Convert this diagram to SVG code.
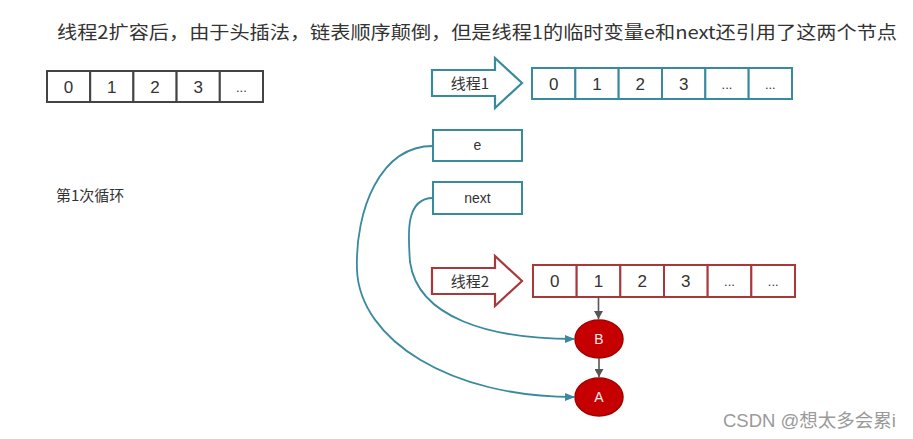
<svg xmlns="http://www.w3.org/2000/svg" width="913" height="439" viewBox="0 0 913 439">
<style>
text{font-family:"Liberation Sans","Noto Sans CJK SC",sans-serif;}
.cjk{font-family:"Noto Sans CJK SC","Liberation Sans",sans-serif;}
.cellK{fill:#fff;stroke:#444;stroke-width:2;}
.cellT{fill:#fff;stroke:#3a8a9e;stroke-width:2;}
.cellR{fill:#fff;stroke:#a8383a;stroke-width:2;}
.num{font-size:17px;fill:#333;text-anchor:middle;}
.dots{font-size:13px;fill:#333;text-anchor:middle;}
.lbl{font-size:14px;fill:#333;text-anchor:middle;}
.teal{fill:none;stroke:#3a8a9e;stroke-width:1.8;}
.gray{fill:none;stroke:#555;stroke-width:1.6;}
.node{fill:#c60000;stroke:#a50000;stroke-width:1.5;}
.nodeT{font-size:14px;fill:#fbeaea;text-anchor:middle;}
</style>
<defs>
<marker id="mTeal" markerWidth="10" markerHeight="8" refX="9" refY="4" orient="auto" markerUnits="userSpaceOnUse">
<path d="M0,0 L10,4 L0,8 Z" fill="#3a8a9e"/>
</marker>
<marker id="mGray" markerWidth="8" markerHeight="9" refX="8" refY="4.5" orient="auto" markerUnits="userSpaceOnUse">
<path d="M0,0 L8,4.5 L0,9 Z" fill="#555"/>
</marker>
</defs>
<rect x="0" y="0" width="913" height="439" fill="#fff"/>

<g id="title">
<text class="cjk" x="57" y="39" font-size="18" fill="#333" textLength="840" lengthAdjust="spacingAndGlyphs">线程2扩容后，由于头插法，链表顺序颠倒，但是线程1的临时变量e和next还引用了这两个节点</text>
</g>

<g id="array-original">
<rect class="cellK" x="47" y="71" width="43.2" height="31"/>
<rect class="cellK" x="90.2" y="71" width="43.2" height="31"/>
<rect class="cellK" x="133.4" y="71" width="43.2" height="31"/>
<rect class="cellK" x="176.6" y="71" width="43.2" height="31"/>
<rect class="cellK" x="219.8" y="71" width="43.2" height="31"/>
<text class="num" x="68.6" y="93">0</text>
<text class="num" x="111.8" y="93">1</text>
<text class="num" x="155" y="93">2</text>
<text class="num" x="198.2" y="93">3</text>
<text class="dots" x="241.4" y="92">...</text>
</g>

<g id="loop-label">
<text class="cjk" x="56" y="201" font-size="15" fill="#333">第1次循环</text>
</g>

<g id="thread1">
<path d="M432,70 L495,70 L495,58 L522,83 L495,108 L495,96 L432,96 Z" fill="#fff" stroke="#3a8a9e" stroke-width="2.2" stroke-linejoin="miter"/>
<text class="cjk" x="470" y="89" font-size="15" fill="#333" text-anchor="middle">线程1</text>
</g>

<g id="array-thread1">
<rect class="cellT" x="532" y="68" width="43.33" height="31"/>
<rect class="cellT" x="575.33" y="68" width="43.33" height="31"/>
<rect class="cellT" x="618.67" y="68" width="43.33" height="31"/>
<rect class="cellT" x="662" y="68" width="43.33" height="31"/>
<rect class="cellT" x="705.33" y="68" width="43.33" height="31"/>
<rect class="cellT" x="748.67" y="68" width="43.33" height="31"/>
<text class="num" x="553.7" y="90">0</text>
<text class="num" x="597" y="90">1</text>
<text class="num" x="640.3" y="90">2</text>
<text class="num" x="683.7" y="90">3</text>
<text class="dots" x="727" y="89">...</text>
<text class="dots" x="770.3" y="89">...</text>
</g>

<g id="var-e">
<rect x="433" y="130" width="89" height="31" fill="#fff" stroke="#3a8a9e" stroke-width="2"/>
<text class="lbl" x="477.5" y="150">e</text>
</g>

<g id="var-next">
<rect x="433" y="182" width="89" height="32" fill="#fff" stroke="#3a8a9e" stroke-width="2"/>
<text class="lbl" x="477.5" y="203">next</text>
</g>

<g id="thread2">
<path d="M432,268 L495,268 L495,256 L522,281 L495,306 L495,294 L432,294 Z" fill="#fff" stroke="#a8383a" stroke-width="2.2" stroke-linejoin="miter"/>
<text class="cjk" x="470" y="287" font-size="15" fill="#333" text-anchor="middle">线程2</text>
</g>

<g id="array-thread2">
<rect class="cellR" x="533" y="265" width="43.67" height="32"/>
<rect class="cellR" x="576.67" y="265" width="43.67" height="32"/>
<rect class="cellR" x="620.33" y="265" width="43.67" height="32"/>
<rect class="cellR" x="664" y="265" width="43.67" height="32"/>
<rect class="cellR" x="707.67" y="265" width="43.67" height="32"/>
<rect class="cellR" x="751.33" y="265" width="43.67" height="32"/>
<text class="num" x="554.8" y="287">0</text>
<text class="num" x="598.5" y="287">1</text>
<text class="num" x="642.2" y="287">2</text>
<text class="num" x="685.8" y="287">3</text>
<text class="dots" x="729.5" y="286">...</text>
<text class="dots" x="773.2" y="286">...</text>
</g>

<g id="node-B">
<ellipse class="node" cx="599" cy="339" rx="24" ry="19"/>
<text class="nodeT" x="599" y="344">B</text>
</g>

<g id="node-A">
<ellipse class="node" cx="599" cy="397" rx="24" ry="19"/>
<text class="nodeT" x="599" y="402">A</text>
</g>

<g id="connectors">
<path class="teal" d="M433,146 C380,146 355,210 357,270 C360,340 450,397 574,397" marker-end="url(#mTeal)"/>
<path class="teal" d="M433,198 C405,198 408,235 410,262 C418,318 490,339 574,339" marker-end="url(#mTeal)"/>
<line class="gray" x1="598.5" y1="297" x2="598.5" y2="319" marker-end="url(#mGray)"/>
<line class="gray" x1="599" y1="358" x2="599" y2="377" marker-end="url(#mGray)"/>
</g>

<g id="watermark">
<text x="723" y="427" font-size="18.5" fill="#9a9a9a">CSDN @想太多会累i</text>
</g>
</svg>
